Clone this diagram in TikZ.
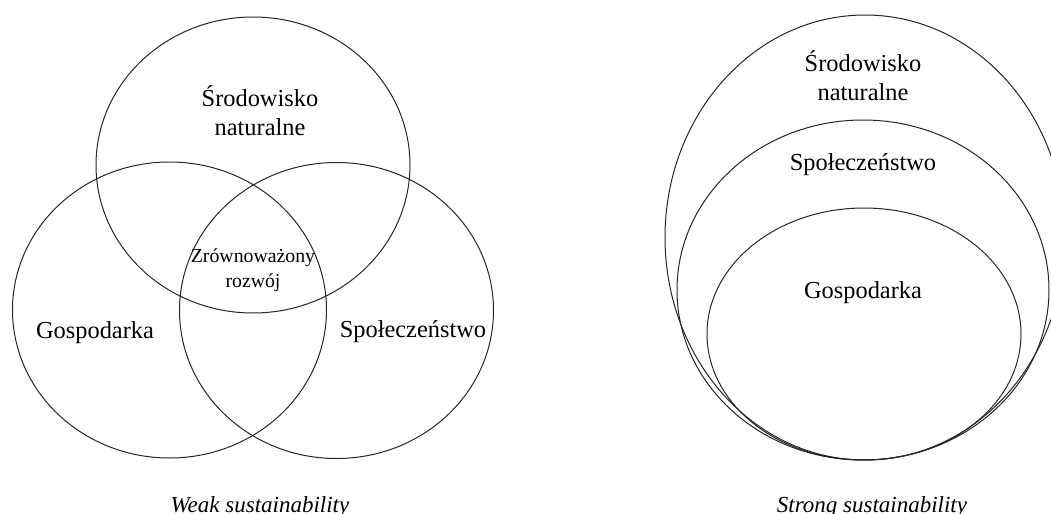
\documentclass[tikz,border=0pt]{standalone}
\usepackage{fontspec}
\setmainfont{Liberation Serif}
\usepackage{tikz}
\usetikzlibrary{calc}

\begin{document}
\begin{tikzpicture}[x=0.5pt,y=-0.5pt,line width=0.5pt,
  lbl/.style={align=center,font=\fontsize{12.2}{14.5}\selectfont},
  mid/.style={align=center,font=\fontsize{9.9}{12.5}\selectfont},
  capt/.style={anchor=base,font=\fontsize{11.5}{13}\selectfont\itshape}]
\useasboundingbox (0,0) rectangle (1051,514);
% weak sustainability
\foreach \cx/\cy in {253/165, 169.5/310, 336.5/310.5}
    \draw[black!85] (\cx,\cy) ellipse [x radius=157, y radius=148];
\node[lbl] (wsrod) at (260,111) {Środowisko\\naturalne};
\node[mid] (wrozw) at (253,270) {Zrównoważony\\rozwój};
\node[lbl] (wgosp) at (95,333) {Gospodarka};
\node[lbl] (wspol) at (413,332) {Społeczeństwo};
\node[capt] (wcapt) at (260,512) {Weak sustainability};
% strong sustainability
\draw[black!85] (865,237.5) ellipse [x radius=200, y radius=222.5];
\draw[black!85] (863,290) ellipse [x radius=186, y radius=170];
\draw[black!85] (864,334) ellipse [x radius=157, y radius=126];
\node[lbl] (ssrod) at (863,76) {Środowisko\\naturalne};
\node[lbl] (sspol) at (863,165) {Społeczeństwo};
\node[lbl] (sgosp) at (863,293) {Gospodarka};
\node[capt] (scapt) at (872,512) {Strong sustainability};
\end{tikzpicture}
\end{document}
